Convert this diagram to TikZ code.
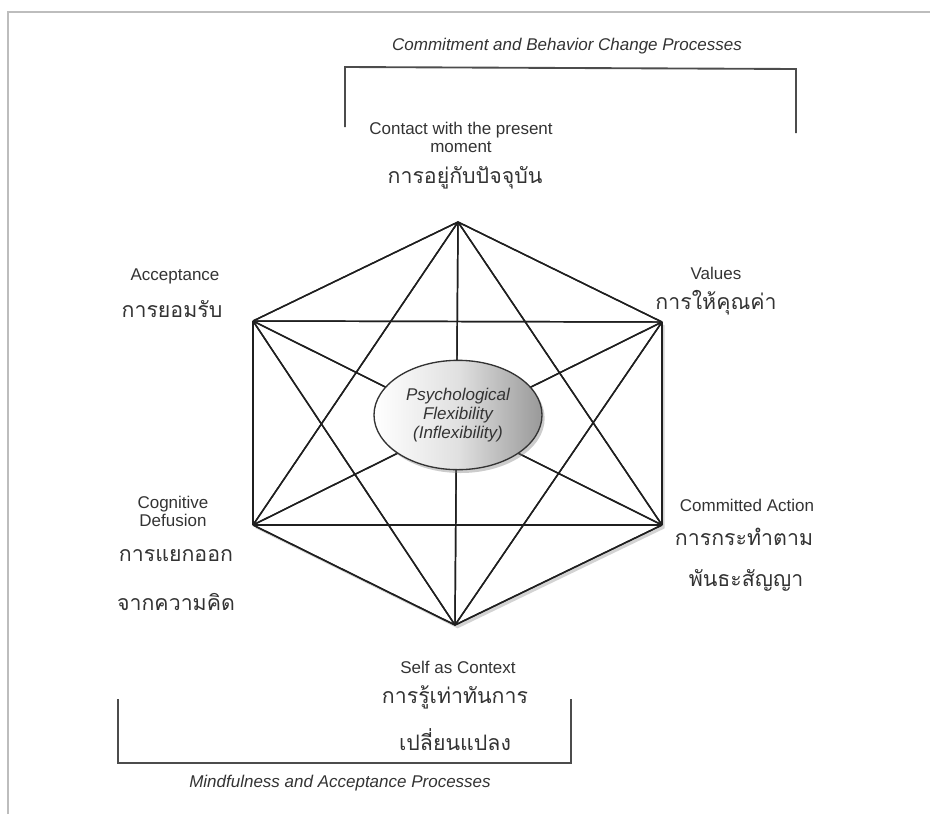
\documentclass[tikz,border=0pt]{standalone}
\usepackage{fontspec}
\setmainfont{Liberation Sans}
\newfontfamily\thaifont[Script=Thai]{Loma}
\usetikzlibrary{shapes.geometric,shadows}

\definecolor{labelgray}{HTML}{333333}
\definecolor{framegray}{HTML}{BDBDBD}

\tikzset{
  eng/.style={font=\fontsize{12.75}{13.5}\selectfont, text=labelgray, align=center, inner sep=0pt},
  tha/.style={font=\thaifont\fontsize{16}{19}\selectfont, text=black!80, inner sep=0pt},
  procname/.style={font=\fontsize{12.75}{13.5}\selectfont\itshape, text=labelgray, inner sep=0pt},
  bracketline/.style={draw=black!70, line width=1.4pt},
  spoke/.style={draw=black!88, line width=1.1pt}
}

\begin{document}
\begin{tikzpicture}[x=0.75pt,y=-0.75pt]

  \useasboundingbox (0,0) rectangle (930,814);

  % thin page frame
  \draw[framegray, line width=0.8pt] (8,814) -- (8,12) -- (930,12);

  % the six corners of the hexaflex
  \path (458,222) coordinate (cpm)
        (662,322) coordinate (val)
        (662,525) coordinate (cmt)
        (455,625) coordinate (sac)
        (253,525) coordinate (cdf)
        (253,321) coordinate (acc);

  \fill[white, drop shadow={opacity=0.35, shadow xshift=2pt, shadow yshift=-2.5pt}]
    (cpm) -- (val) -- (cmt) -- (sac) -- (cdf) -- (acc) -- cycle;

  \foreach \a in {cpm,val,cmt,sac,cdf,acc}{% every corner is joined
    \foreach \b in {cpm,val,cmt,sac,cdf,acc}{% to every other corner
      \draw[spoke] (\a) -- (\b);}}

  \node[ellipse, draw=black!80, line width=1pt, minimum width=126pt, minimum height=82pt,
        left color=white, right color=black!40, middle color=black!12,
        drop shadow={opacity=0.4, shadow xshift=2pt, shadow yshift=-2.5pt},
        font=\fontsize{12.75}{14.25}\selectfont\itshape, text=labelgray, align=center]
    (psyflex) at (458,415) {Psychological\\Flexibility\\(Inflexibility)};

  % labels round the corners
  \node[eng] (cpmlab) at (461,137) {Contact with the present\\moment};
  \node[tha] (cpmtha) at (465,178) {การอยู่กับปัจจุบัน};

  \node[eng] (acclab) at (175,276) {Acceptance};
  \node[tha] (acctha) at (172,309) {การยอมรับ};

  \node[eng] (vallab) at (716,273) {Values};
  \node[tha] (valtha) at (716,303) {การให้คุณค่า};

  \node[eng] (cdflab) at (173,511) {Cognitive\\Defusion};
  \node[tha] (cdftha) at (176,556) {การแยกออก};
  \node[tha] (cdfthb) at (176,602) {จากความคิด};

  \node[eng] (cmtlab) at (747,505) {Committed Action};
  \node[tha] (cmttha) at (744,537) {การกระทำตาม};
  \node[tha] (cmtthb) at (746,580) {พันธะสัญญา};

  \node[eng] (saclab) at (458,667) {Self as Context};
  \node[tha] (sactha) at (455,697) {การรู้เท่าทันการ};
  \node[tha] (sacthb) at (455,740) {เปลี่ยนแปลง};

  % the two process brackets
  \draw[bracketline] (345,127) -- (345,67) -- (796,69) -- (796,133);
  \node[procname] (commit) at (567,46) {Commitment and Behavior Change Processes};

  \draw[bracketline] (118,699) -- (118,763) -- (571,763) -- (571,699);
  \node[procname] (mindful) at (340,783) {Mindfulness and Acceptance Processes};

\end{tikzpicture}
\end{document}
